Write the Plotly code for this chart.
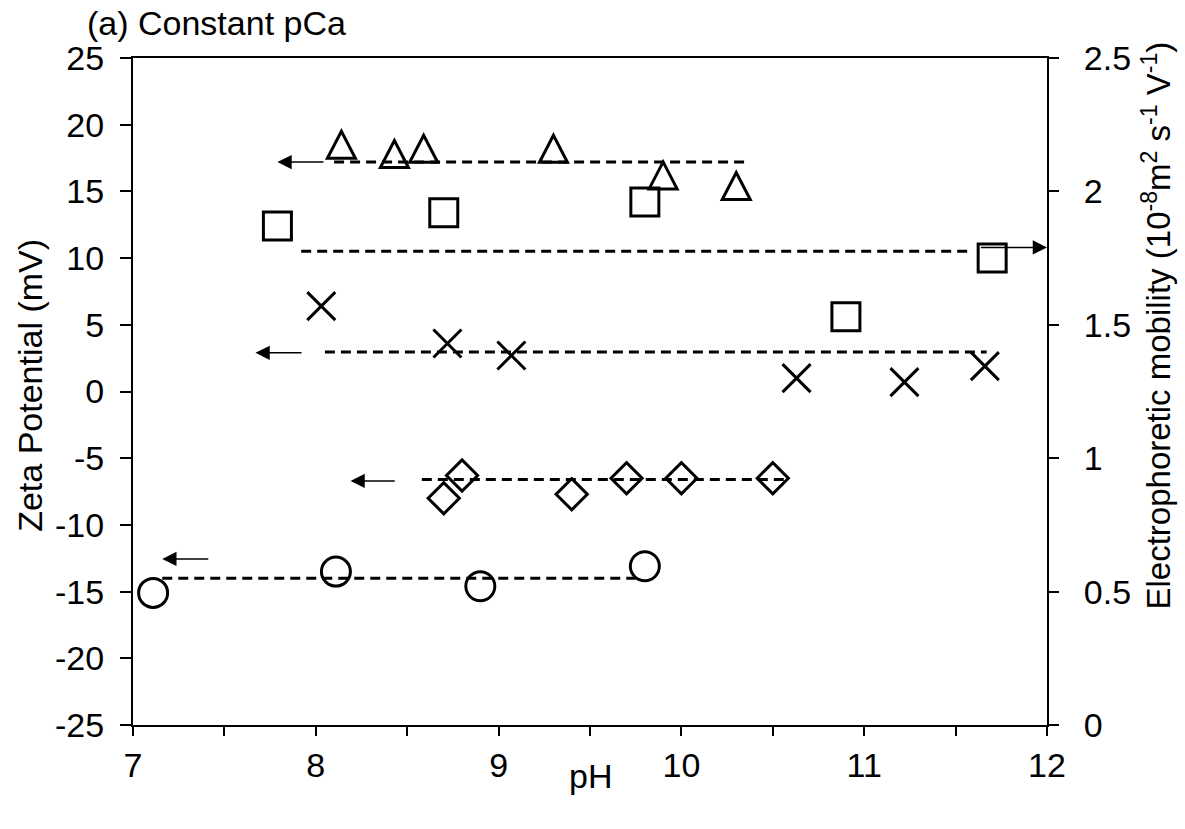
import plotly.graph_objects as go

# Zeta potential (mV) vs pH at constant pCa
ph_tri = [8.14, 8.43, 8.59, 9.30, 9.90, 10.30]
zeta_tri = [18.5, 17.8, 18.2, 18.2, 16.2, 15.4]

ph_cross = [8.03, 8.72, 9.07, 10.63, 11.22, 11.66]
zeta_cross = [6.4, 3.6, 2.7, 1.0, 0.7, 1.9]

ph_dia = [8.70, 8.80, 9.40, 9.70, 10.00, 10.50]
zeta_dia = [-8.0, -6.3, -7.7, -6.5, -6.5, -6.5]

ph_circ = [7.11, 8.11, 8.90, 9.80]
zeta_circ = [-15.1, -13.5, -14.6, -13.1]

# Electrophoretic mobility (1e-8 m2 s-1 V-1) vs pH
ph_sq = [7.79, 8.70, 9.80, 10.90, 11.70]
mob_sq = [1.87, 1.92, 1.96, 1.53, 1.75]

# Mean levels: (pH start, pH end, value, axis)
mean_tri = (8.10, 10.37, 17.2, "y")
mean_sq = (7.92, 11.59, 1.776, "y2")
mean_cross = (8.05, 11.67, 2.96, "y")
mean_dia = (8.58, 10.56, -6.6, "y")
mean_circ = (7.16, 9.75, -14.0, "y")

# Axis-pointer arrows: (head pH, tail pH, level, axis)
arrows = [
    (7.79, 8.05, 17.2, "y"),
    (12.0, 11.63, 1.79, "y2"),
    (7.67, 7.93, 2.9, "y"),
    (8.19, 8.44, -6.7, "y"),
    (7.16, 7.42, -12.55, "y"),
]

zeta_ticks = [-25, -20, -15, -10, -5, 0, 5, 10, 15, 20, 25]
mob_ticks = [0, 0.5, 1, 1.5, 2, 2.5]
ph_ticks = [7, 8, 9, 10, 11, 12]

FONT = "Liberation Sans, Arial, sans-serif"
FS = 34
BLACK = "#000000"

fig = go.Figure()

# dashed mean lines
for x0, x1, v, ax in [mean_tri, mean_sq, mean_cross, mean_dia, mean_circ]:
    fig.add_trace(go.Scatter(
        x=[x0, x1], y=[v, v], yaxis=ax, mode="lines",
        line=dict(color=BLACK, width=3, dash="10px,6px"),
        showlegend=False, hoverinfo="skip"))

mk_line = dict(color=BLACK, width=3)
fig.add_trace(go.Scatter(x=ph_circ, y=zeta_circ, mode="markers", showlegend=False,
                         marker=dict(symbol="circle-open", size=29, line=mk_line, color=BLACK)))
fig.add_trace(go.Scatter(x=ph_dia, y=zeta_dia, mode="markers", showlegend=False,
                         marker=dict(symbol="diamond-open", size=24, line=mk_line, color=BLACK)))
fig.add_trace(go.Scatter(x=ph_cross, y=zeta_cross, mode="markers", showlegend=False,
                         marker=dict(symbol="x-thin-open", size=28, line=mk_line, color=BLACK)))
fig.add_trace(go.Scatter(x=ph_sq, y=mob_sq, yaxis="y2", mode="markers", showlegend=False,
                         marker=dict(symbol="square-open", size=28, line=mk_line, color=BLACK)))

# isosceles open triangles anchored at each data point (fixed pixel size)
for px, pz in zip(ph_tri, zeta_tri):
    fig.add_shape(type="path", xref="x", yref="y",
                  xsizemode="pixel", ysizemode="pixel",
                  xanchor=px, yanchor=pz,
                  path="M -14,-13.5 L 14,-13.5 L 0,13.5 Z",
                  line=dict(color=BLACK, width=3), fillcolor="rgba(0,0,0,0)")

for head, tail, v, ax in arrows:
    fig.add_annotation(x=head, y=v, ax=tail, ay=v, xref="x", yref=ax,
                       axref="x", ayref=ax, text="", showarrow=True,
                       arrowhead=2, arrowsize=1.9, arrowwidth=1.5, arrowcolor=BLACK)

axis_common = dict(showgrid=False, zeroline=False, showline=True, linecolor=BLACK,
                   linewidth=2, ticks="outside", tickcolor=BLACK, tickwidth=2,
                   tickfont=dict(family=FONT, size=FS, color=BLACK))

fig.update_layout(
    width=1185, height=829,
    margin=dict(l=133, r=138, t=58, b=104),
    paper_bgcolor="white", plot_bgcolor="white",
    font=dict(family=FONT, size=FS, color=BLACK),
    xaxis=dict(range=[7, 12], tickvals=ph_ticks,
               ticktext=[str(t) for t in ph_ticks],
               ticklen=9, mirror=True,
               minor=dict(dtick=0.5, ticks="outside", ticklen=9, tickwidth=2,
                          tickcolor=BLACK, showgrid=False),
               **axis_common),
    yaxis=dict(range=[-25, 25], tickvals=zeta_ticks,
               ticktext=[str(t) for t in zeta_ticks], ticklen=11,
               ticklabelstandoff=9, **axis_common),
    yaxis2=dict(range=[0, 2.5], tickvals=mob_ticks,
                ticktext=[f"{t:g}" for t in mob_ticks], ticklen=10,
                overlaying="y", side="right", ticklabelstandoff=18, **axis_common),
)

fig.add_annotation(text="(a) Constant pCa", xref="paper", yref="paper",
                   x=-0.052, y=1.053, xanchor="left", yanchor="middle",
                   showarrow=False, font=dict(family=FONT, size=FS, color=BLACK))
fig.add_annotation(text="pH", xref="paper", yref="paper", x=0.5, y=-0.077,
                   xanchor="center", yanchor="middle", showarrow=False,
                   font=dict(family=FONT, size=FS, color=BLACK))
fig.add_annotation(text="Zeta Potential (mV)", xref="paper", yref="paper",
                   x=-0.1127, y=0.51, xanchor="center", yanchor="middle",
                   textangle=-90, showarrow=False,
                   font=dict(family=FONT, size=FS, color=BLACK))
fig.add_annotation(text="Electrophoretic mobility (10<sup>-8</sup>m<sup>2</sup> s<sup>-1</sup> V<sup>-1</sup>)",
                   xref="paper", yref="paper", x=1.1204, y=0.599,
                   xanchor="center", yanchor="middle", textangle=-90,
                   showarrow=False, font=dict(family=FONT, size=33, color=BLACK))

fig.write_html("out.html")
